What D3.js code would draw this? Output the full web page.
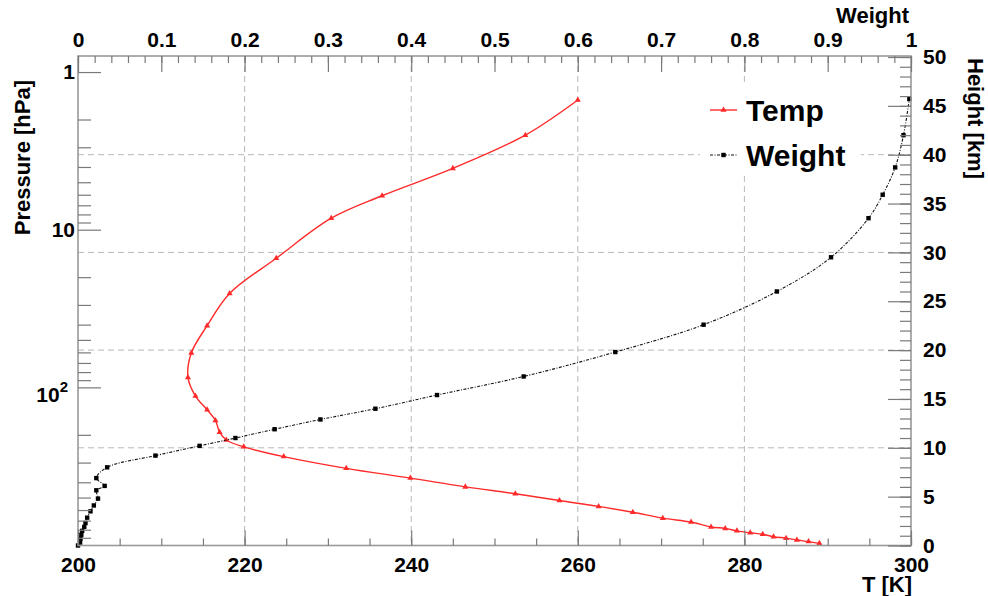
<!DOCTYPE html>
<html><head><meta charset="utf-8">
<script src="https://cdn.jsdelivr.net/npm/d3@7"></script>
<style>
html,body{margin:0;padding:0;background:#fff;}
svg{display:block;font-family:"Liberation Sans",Arial,Helvetica,sans-serif;font-weight:bold;}
</style></head><body>
<svg id="c" width="988" height="596"></svg>
<script>
// ---- data ----
const tempK = [289.0, 287.7, 286.3, 285.0, 283.5, 282.2, 280.7, 279.1, 277.7, 276.0, 273.6, 270.2, 266.6, 262.5, 257.8, 252.5, 246.5, 239.9, 232.2, 224.7, 219.9, 217.8, 217.0, 216.5, 215.5, 214.1, 213.2, 213.6, 215.5, 218.2, 223.8, 230.4, 236.5, 245.0, 253.7, 260.0];
const tempH = [0.22, 0.4, 0.56, 0.75, 0.9, 1.15, 1.3, 1.5, 1.75, 1.9, 2.4, 2.8, 3.4, 4.0, 4.6, 5.3, 6.0, 6.9, 7.9, 9.1, 10.1, 10.8, 11.6, 12.8, 13.9, 15.3, 17.2, 19.7, 22.5, 25.8, 29.4, 33.5, 35.8, 38.6, 42.0, 45.6];
const weightVal = [0.0, 0.0025, 0.003, 0.004, 0.005, 0.0075, 0.009, 0.011, 0.015, 0.019, 0.024, 0.022, 0.032, 0.022, 0.035, 0.093, 0.146, 0.189, 0.236, 0.291, 0.357, 0.431, 0.535, 0.645, 0.751, 0.839, 0.904, 0.949, 0.966, 0.981, 0.991, 0.998];
const weightH = [0.0, 0.3, 0.7, 1.1, 1.5, 1.9, 2.3, 2.85, 3.5, 4.1, 4.8, 5.65, 6.1, 6.9, 8.0, 9.2, 10.2, 11.0, 11.9, 12.9, 14.0, 15.4, 17.3, 19.8, 22.6, 26.0, 29.5, 33.5, 35.9, 38.7, 42.0, 45.7];

const tTicks = [200, 220, 240, 260, 280, 300];
const weightTicks = [0, 0.1, 0.2, 0.3, 0.4, 0.5, 0.6, 0.7, 0.8, 0.9, 1];
const weightTickLabels = ["0", "0.1", "0.2", "0.3", "0.4", "0.5", "0.6", "0.7", "0.8", "0.9", "1"];
const heightTicks = [0, 5, 10, 15, 20, 25, 30, 35, 40, 45, 50];
const pressureTicks = [1, 10, 100];
const pressureLabelBase = ["1", "10", "10"];
const pressureLabelExp = ["", "", "2"];
const gridT = [220, 240, 260, 280];
const gridH = [10, 20, 30, 40];
const legendLabels = ["Temp", "Weight"];

// ---- layout ----
const L = 78, R = 911, T = 56, B = 545.5;
const svg = d3.select("#c");
const xT = d3.scaleLinear().domain([200, 300]).range([L, R]);
const xW = d3.scaleLinear().domain([0, 1]).range([L, R]);
const yH = d3.scaleLinear().domain([0, 50]).range([B, 57]);
const yP = d3.scaleLog().domain([1007, 0.791]).range([B, T]);

const RED = "#ff2a2a";
const AX = "#7a7a7a";

// grid
const grid = svg.append("g").attr("stroke", "#b8b8b8").attr("stroke-width", 1).attr("stroke-dasharray", "6,4");
grid.selectAll("line.v").data(gridT).join("line").attr("class", "v")
  .attr("x1", d => xT(d)).attr("x2", d => xT(d)).attr("y1", T).attr("y2", B);
grid.selectAll("line.h").data(gridH).join("line").attr("class", "h")
  .attr("x1", L).attr("x2", R).attr("y1", d => yH(d)).attr("y2", d => yH(d));

// curves
const tData = tempK.map((t, i) => ({x: t, h: tempH[i]}));
const wData = weightVal.map((w, i) => ({x: w, h: weightH[i]}));

const lineT = d3.line().x(d => xT(d.x)).y(d => yH(d.h)).curve(d3.curveCatmullRom.alpha(0.5));
const lineW = d3.line().x(d => xW(d.x)).y(d => yH(d.h)).curve(d3.curveCatmullRom.alpha(0.5));

svg.append("path").datum(tData).attr("d", lineT).attr("fill", "none")
  .attr("stroke", RED).attr("stroke-width", 1.4);
svg.append("g").selectAll("path").data(tData).join("path")
  .attr("transform", d => `translate(${xT(d.x)},${yH(d.h)})`)
  .attr("d", d3.symbol(d3.symbolTriangle).size(16)).attr("fill", RED);

svg.append("path").datum(wData).attr("d", lineW).attr("fill", "none")
  .attr("stroke", "#111").attr("stroke-width", 1.1).attr("stroke-dasharray", "3,1.5,1,1.5");
svg.append("g").selectAll("rect").data(wData).join("rect")
  .attr("x", d => xW(d.x) - 2.2).attr("y", d => yH(d.h) - 2.2)
  .attr("width", 4.4).attr("height", 4.4).attr("fill", "#000");

// frame
svg.append("rect").attr("x", L).attr("y", T).attr("width", R - L).attr("height", B - T)
  .attr("fill", "none").attr("stroke", "#999").attr("stroke-width", 1.6);

function styleAxis(g) {
  g.select(".domain").remove();
  g.selectAll(".tick line").attr("stroke", AX).attr("stroke-width", 1.2);
  g.selectAll(".tick text").attr("fill", "#000").attr("font-size", 21)
    .attr("font-family", '"Liberation Sans",Arial,sans-serif').attr("font-weight", "bold");
}

// top axis (weight)
svg.append("g").attr("transform", `translate(0,${T})`)
  .call(d3.axisTop(xW).tickValues(d3.range(0, 1.0001, 0.02)).tickSize(-7).tickFormat(""))
  .call(styleAxis);
svg.append("g").attr("transform", `translate(0,${T})`)
  .call(d3.axisTop(xW).tickValues(weightTicks).tickSize(-16).tickPadding(9)
    .tickFormat((d, i) => weightTickLabels[i]))
  .call(styleAxis);

// bottom axis (T)
svg.append("g").attr("transform", `translate(0,${B})`)
  .call(d3.axisBottom(xT).tickValues(d3.range(200, 300.01, 5)).tickSize(-7).tickFormat(""))
  .call(styleAxis);
svg.append("g").attr("transform", `translate(0,${B})`)
  .call(d3.axisBottom(xT).tickValues(tTicks).tickSize(-15).tickPadding(12).tickFormat(d3.format("d")))
  .call(styleAxis);

// right axis (height)
svg.append("g").attr("transform", `translate(${R},0)`)
  .call(d3.axisRight(yH).tickValues(d3.range(0, 50.01, 1)).tickSize(-11).tickFormat(""))
  .call(styleAxis);
svg.append("g").attr("transform", `translate(${R},0)`)
  .call(d3.axisRight(yH).tickValues(heightTicks).tickSize(-23).tickPadding(12).tickFormat(d3.format("d")))
  .call(styleAxis);

// left axis (pressure, log)
const minorP = [];
[1, 10, 100].forEach(dec => { for (let k = 2; k <= 9; k++) minorP.push(k * dec); });
svg.append("g").attr("transform", `translate(${L},0)`)
  .call(d3.axisLeft(yP).tickValues(minorP).tickSize(-13).tickFormat(""))
  .call(styleAxis);
const leftAx = svg.append("g").attr("transform", `translate(${L},0)`)
  .call(d3.axisLeft(yP).tickValues(pressureTicks).tickSize(-23).tickPadding(3).tickFormat(""))
  .call(styleAxis);
leftAx.selectAll(".tick").each(function(d, i) {
  const t = d3.select(this).select("text");
  t.text(null);
  if (pressureLabelExp[i]) {
    t.attr("x", -10).attr("dy", "0.65em");
    t.append("tspan").text(pressureLabelBase[i]);
    t.append("tspan").attr("font-size", 15).attr("dy", -10).text(pressureLabelExp[i]);
  } else {
    t.attr("x", -3).text(pressureLabelBase[i]);
  }
});

// axis titles
const titleFont = 22;
svg.append("text").attr("x", 909).attr("y", 23).attr("text-anchor", "end")
  .attr("font-size", titleFont).text("Weight");
svg.append("text").attr("x", 912).attr("y", 592).attr("text-anchor", "end")
  .attr("font-size", titleFont).text("T [K]");
svg.append("text").attr("transform", "translate(30,80) rotate(-90)").attr("text-anchor", "end")
  .attr("font-size", titleFont).text("Pressure [hPa]");
svg.append("text").attr("transform", "translate(968,58) rotate(90)").attr("text-anchor", "start")
  .attr("font-size", titleFont).text("Height [km]");

// legend
const lg = svg.append("g");
lg.append("rect").attr("x", 700).attr("y", 86).attr("width", 161).attr("height", 90).attr("fill", "#fff");
const legY = [110, 155];
lg.append("line").attr("x1", 710).attr("x2", 737).attr("y1", legY[0]).attr("y2", legY[0])
  .attr("stroke", RED).attr("stroke-width", 1.4);
lg.append("path").attr("transform", `translate(723.5,${legY[0]})`)
  .attr("d", d3.symbol(d3.symbolTriangle).size(16)).attr("fill", RED);
lg.append("line").attr("x1", 710).attr("x2", 737).attr("y1", legY[1]).attr("y2", legY[1])
  .attr("stroke", "#111").attr("stroke-width", 1.1).attr("stroke-dasharray", "3,1.5,1,1.5");
lg.append("rect").attr("x", 721.3).attr("y", legY[1] - 2.2).attr("width", 4.4).attr("height", 4.4).attr("fill", "#000");
lg.selectAll("text").data(legendLabels).join("text")
  .attr("x", 746).attr("y", (d, i) => legY[i] + 11).attr("font-size", 30).text(d => d);
</script>
</body></html>
